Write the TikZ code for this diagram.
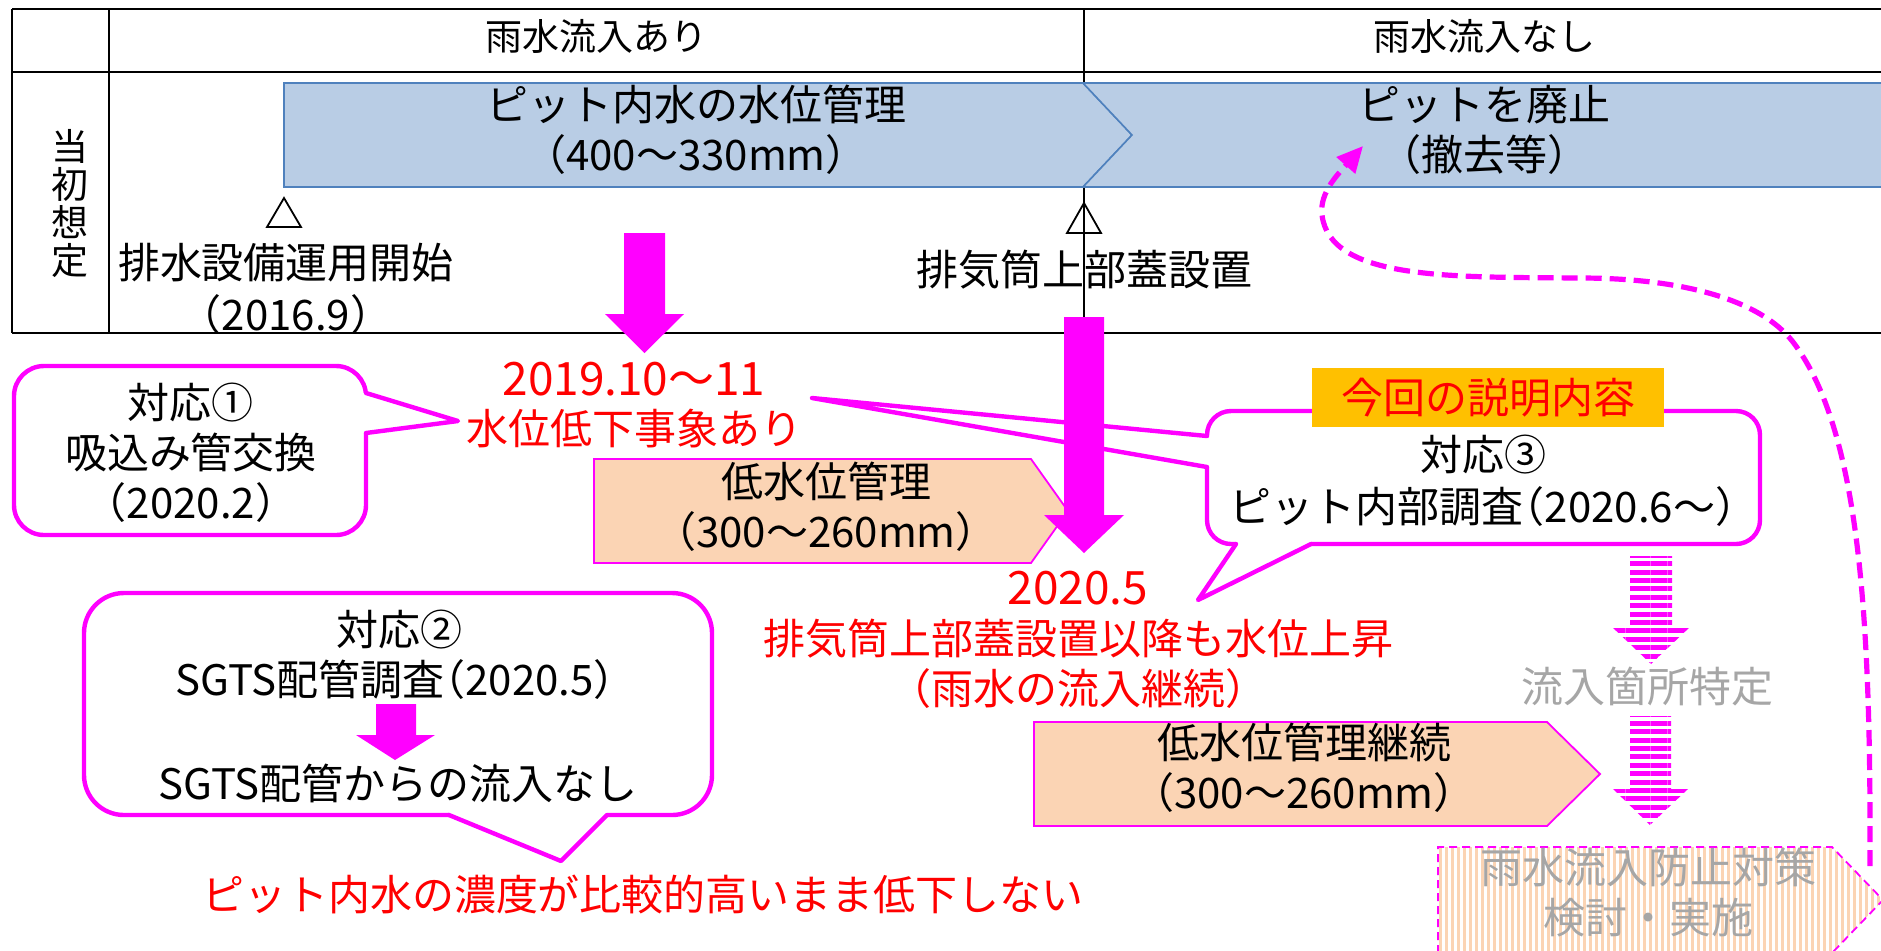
\documentclass[tikz,border=0pt]{standalone}
\usepackage{fontspec}
\setmainfont{Noto Sans CJK JP}
\usetikzlibrary{arrows.meta,patterns.meta}
\definecolor{mag}{HTML}{FF00FF}
\definecolor{redt}{HTML}{FF0000}
\definecolor{bandfill}{HTML}{B9CDE5}
\definecolor{bandline}{HTML}{4F81BD}
\definecolor{peach}{HTML}{FBD4B4}
\definecolor{gold}{HTML}{FFC000}
\definecolor{grayt}{HTML}{A6A6A6}
\newcommand\jlp{\hbox to 0.5em{\hss{}（}}
\newcommand\jrp{\hbox to 0.5em{）\hss}}
\tikzset{
  tbl/.style={line width=1.2pt},
  T/.style={font=\fontsize{21pt}{25pt}\selectfont, align=center, inner sep=0pt},
  H/.style={font=\fontsize{18.5pt}{22pt}\selectfont, inner sep=0pt},
  co/.style={draw=mag, line width=2.2pt, fill=white},
  ptr/.style={draw=mag, line width=2.2pt, line cap=round, line join=round},
  stripearr/.style={pattern={Lines[angle=0,distance=4.2pt,line width=2.5pt]}, pattern color=mag},
  pent/.style={fill=peach, draw=mag, line width=0.9pt},
  band/.style={fill=bandfill, draw=bandline, line width=0.8pt},
}
\newcommand\dt[1]{{\fontsize{23pt}{25pt}\selectfont #1}}
\begin{document}
\begin{tikzpicture}[x=0.5pt,y=-0.5pt]
\path[use as bounding box] (0,0) rectangle (1881,950);
\clip (0,0) rectangle (1881,950);
% ---- table
\draw[tbl] (12,9) -- (1881,9);
\draw[tbl] (12,72) -- (1881,72);
\draw[tbl] (12,333) -- (1881,333);
\draw[tbl] (12,9) -- (12,333);
\draw[tbl] (109,9) -- (109,333);
\draw[tbl] (1084,9) -- (1084,333);
\node[H] (h1) at (596,36) {雨水流入あり};
\node[H] (h2) at (1484,36) {雨水流入なし};
\node[H, align=center, font=\fontsize{18.5pt}{19pt}\selectfont] (rowlab) at (70,204) {当\\初\\想\\定};
% ---- blue band
\draw[band] (284,83) -- (1083,83) -- (1132,135) -- (1083,187) -- (284,187) -- cycle;
\draw[band] (1083,83) -- (1890,83) -- (1890,187) -- (1083,187) -- (1132,135) -- cycle;
\node[T] (b1) at (696,130) {ピット内水の水位管理\\\jlp 400～330mm\jrp};
\node[T] (b2) at (1484,130) {ピットを廃止\\\jlp 撤去等\jrp};
% ---- milestones
\draw[line width=0.9pt] (284,198) -- (301,227) -- (267,227) -- cycle;
\draw[line width=0.9pt] (1084,203) -- (1101,233) -- (1067,233) -- cycle;
\node[T, font=\fontsize{21pt}{26pt}\selectfont] (m1) at (286,289) {排水設備運用開始\\\jlp 2016.9\jrp};
\node[T] (m2) at (1084,270) {排気筒上部蓋設置};
% ---- arrow 1
\fill[mag] (624,233) -- (665,233) -- (665,314) -- (684,314) -- (644.5,353) -- (605,314) -- (624,314) -- cycle;
\node[T, font=\fontsize{21pt}{24.5pt}\selectfont, text=redt] (ev1) at (634,405.5) {\dt{2019.10～11}\\水位低下事象あり};
% ---- callout 1
\draw[co, rounded corners=15pt] (14,366) rectangle (366,535);
\fill[white] (458,421) -- (366,393) -- (360,393) -- (360,433) -- (366,433) -- cycle;
\draw[ptr] (366,393) -- (458,421) -- (366,433);
\node[T] (c1) at (191,452.5) {対応①\\吸込み管交換\\\jlp 2020.2\jrp};
% ---- callout 2
\draw[co, rounded corners=20pt] (84,593) rectangle (712,815);
\fill[white] (449,815) -- (561,861) -- (607,815) -- (607,809) -- (449,809) -- cycle;
\draw[ptr] (449,815) -- (561,861) -- (607,815);
\node[T] (c2a) at (399,630) {対応②};
\node[T] (c2b) at (395,680) {SGTS配管調査\jlp 2020.5\jrp};
\fill[mag] (376,704) -- (416,704) -- (416,735) -- (435,735) -- (395,760) -- (356,735) -- (376,735) -- cycle;
\node[T] (c2c) at (398,783.5) {SGTS配管からの流入なし};
\node[T, text=redt] (res2) at (643,894) {ピット内水の濃度が比較的高いまま低下しない};
% ---- pentagon 1
\draw[pent] (594,459) -- (1031,459) -- (1068,511) -- (1031,563) -- (594,563) -- cycle;
\node[T] (p1) at (826,506.7) {低水位管理\\\jlp 300～260mm\jrp};
% ---- callout 3
\draw[co, rounded corners=12pt] (1207,411) rectangle (1760,544);
\fill[white] (812,398) -- (1207,436) -- (1213,436) -- (1213,467) -- (1207,467) -- cycle;
\draw[ptr] (1207,436) -- (812,398) -- (1207,467);
\fill[white] (1198,600) -- (1236,544) -- (1236,538) -- (1311,538) -- (1311,544) -- cycle;
\draw[ptr] (1236,544) -- (1198,600) -- (1311,544);
\node[T, fill=gold, text=redt, minimum width=176pt, minimum height=29.5pt] (lab) at (1488,397.5) {今回の説明内容};
\node[T, font=\fontsize{21pt}{26pt}\selectfont] (c3) at (1483,481) {対応③\\ピット内部調査\jlp 2020.6～\jrp};
% ---- arrow 2
\fill[mag] (1064,317) -- (1104,317) -- (1104,515) -- (1124,515) -- (1084,553) -- (1044,515) -- (1064,515) -- cycle;
\node[T, text=redt] (ev2) at (1078,639.5) {\dt{2020.5}\\排気筒上部蓋設置以降も水位上昇\\\jlp 雨水の流入継続\jrp};
% ---- striped arrows
\fill[stripearr] (1630,556) -- (1672,556) -- (1672,626) -- (1691,626) -- (1651,664) -- (1611,626) -- (1630,626) -- cycle;
\node[T, text=grayt] (flow) at (1647,687) {流入箇所特定};
\fill[stripearr] (1630,716) -- (1671,716) -- (1671,789) -- (1688,789) -- (1650,825) -- (1613,789) -- (1630,789) -- cycle;
% ---- pentagon 2
\draw[pent] (1034,722) -- (1547,722) -- (1600,774) -- (1547,826) -- (1034,826) -- cycle;
\node[T] (p2) at (1304,768) {低水位管理継続\\\jlp 300～260mm\jrp};
% ---- dashed pentagon
\path[pattern={Lines[angle=90,distance=3pt,line width=1.5pt]}, pattern color=peach] (1438,847) -- (1832,847) -- (1883,900) -- (1832,953) -- (1438,953) -- cycle;
\draw[mag, line width=0.9pt, dash pattern=on 4pt off 2.5pt] (1438,953) -- (1438,847) -- (1832,847) -- (1883,900) -- (1832,953);
\node[T, text=grayt] (p3) at (1648,893) {雨水流入防止対策\\検討・実施};
% ---- dashed curved arrow
\coordinate (ds) at (1870,866);
\coordinate (de) at (1363,146);
\draw[mag, line width=2.6pt, dash pattern=on 8pt off 4pt, -{Triangle[length=13pt,width=12pt]}]
  (ds) .. controls (1871,620) and (1860,430) .. (1793,342)
       .. controls (1760,299) and (1680,278) .. (1580,278)
       .. controls (1450,277) and (1330,280) .. (1322,215)
       .. controls (1319,192) and (1340,172) .. (de);
\end{tikzpicture}
\end{document}
